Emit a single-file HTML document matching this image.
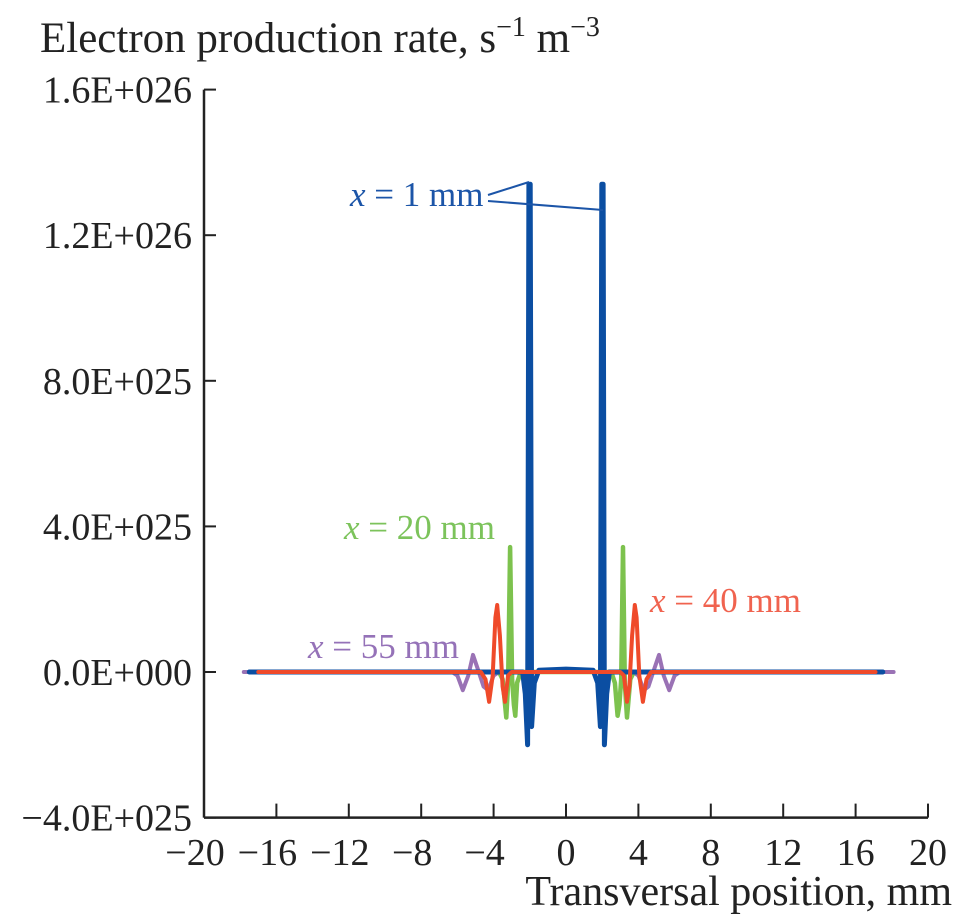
<!DOCTYPE html>
<html><head><meta charset="utf-8"><style>
body{margin:0;background:#fff}
svg{display:block;font-family:"Liberation Serif",serif}
</style></head><body>
<svg id="chart" width="958" height="920" viewBox="0 0 958 920">
<text x="40" y="52" font-size="43" fill="#222">Electron production rate, s<tspan dy="-16" font-size="28">−1</tspan><tspan dy="16"> m</tspan><tspan dy="-16" font-size="28">−3</tspan></text>
<text x="952" y="905" font-size="42" fill="#222" text-anchor="end">Transversal position, mm</text>
<g id="axes"></g>
<g id="series"></g>
<g id="labels">
<text x="350" y="206" font-size="35" fill="#1c55a8"><tspan font-style="italic">x</tspan> = 1 mm</text>
<line x1="488" y1="195" x2="529" y2="182" stroke="#1c55a8" stroke-width="2"/>
<line x1="488" y1="201" x2="603" y2="210" stroke="#1c55a8" stroke-width="2"/>
<text x="344" y="539" font-size="35" fill="#7cc35b"><tspan font-style="italic">x</tspan> = 20 mm</text>
<text x="650" y="612" font-size="35" fill="#f0634f"><tspan font-style="italic">x</tspan> = 40 mm</text>
<text x="308" y="658" font-size="35" fill="#9572b8"><tspan font-style="italic">x</tspan> = 55 mm</text>
</g>
</svg>
<script>
const xTicks=[-20,-16,-12,-8,-4,0,4,8,12,16,20];
const xTickLabels=["−20","−16","−12","−8","−4","0","4","8","12","16","20"];
const yTicks=[-4,0,4,8,12,16];
const yTickLabels=["−4.0E+025","0.0E+000","4.0E+025","8.0E+025","1.2E+026","1.6E+026"];
// values in units of 1E+25
const purpleX=[-17.8,-6.3,-6.0,-5.7,-5.4,-5.14,-4.85,-4.55,-4.3,-4.0,-3.7,3.7,4.0,4.3,4.55,4.85,5.14,5.4,5.7,6.0,6.3,18.1];
const purpleY=[0,0,-0.1,-0.5,-0.1,0.47,0.05,-0.4,-0.5,-0.1,0,0,-0.1,-0.5,-0.4,0.05,0.47,-0.1,-0.5,-0.1,0,0];
const greenX=[-17.5,-3.7,-3.5,-3.3,-3.2,-3.09,-2.98,-2.88,-2.8,-2.7,-2.5,2.5,2.7,2.85,2.95,3.05,3.15,3.25,3.37,3.55,3.75,17.5];
const greenY=[0,0,-0.2,-1.25,-0.3,3.43,-0.2,-0.9,-1.2,-0.3,0,0,-0.3,-1.2,-0.9,-0.2,3.43,-0.3,-1.25,-0.2,0,0];
const blueX=[-17.5,-2.4,-2.25,-2.12,-2.05,-1.98,-1.9,-1.75,-1.5,0,1.5,1.75,1.9,1.98,2.05,2.12,2.25,2.4,17.5];
const blueY=[0,0,-0.6,-2.0,13.4,13.4,-1.5,-0.3,0.05,0.08,0.05,-0.3,-1.5,13.4,13.4,-2.0,-0.6,0,0];
const redX=[-17.0,-4.7,-4.45,-4.25,-4.05,-3.9,-3.8,-3.65,-3.5,-3.37,-3.2,-3.0,3.0,3.2,3.37,3.5,3.65,3.8,3.9,4.05,4.25,4.45,4.7,17.1];
const redY=[0,0,-0.2,-0.82,-0.1,1.5,1.84,1.0,-0.4,-0.82,-0.1,0,0,-0.1,-0.82,-0.4,1.0,1.84,1.5,-0.1,-0.82,-0.2,0,0];

const NS="http://www.w3.org/2000/svg";
const X0=204,X1=928,Y0=672,YS=36.4;
function sx(v){return X0+(v+20)/40*(X1-X0);}
function sy(v){return Y0-v*YS;}
const axes=document.getElementById('axes');
function mk(tag,attrs,parent){const e=document.createElementNS(NS,tag);for(const k in attrs)e.setAttribute(k,attrs[k]);parent.appendChild(e);return e;}
const yl=mk('line',{x1:sx(-20),y1:sy(16),x2:sx(-20),y2:sy(-4),stroke:'#222','stroke-width':2.5},axes);


const xl=mk('line',{x1:sx(-20),y1:sy(-4),x2:sx(20),y2:sy(-4),stroke:'#222','stroke-width':2.5},axes);


yTicks.forEach((t,i)=>{
  const l=mk('line',{x1:sx(-20),y1:sy(t),x2:sx(-20)+12,y2:sy(t),stroke:'#222','stroke-width':2},axes);
  
  
  const tx=mk('text',{x:192,y:sy(t)+13,'font-size':38,fill:'#222','text-anchor':'end'},axes);
  tx.textContent=yTickLabels[i];
  
  
});
xTicks.forEach((t,i)=>{
  const l=mk('line',{x1:sx(t),y1:sy(-4),x2:sx(t),y2:sy(-4)-14,stroke:'#222','stroke-width':2},axes);
  
  
  const tx=mk('text',{x:sx(t)-(t<0?9:0),y:865,'font-size':38,fill:'#222','text-anchor':'middle'},axes);
  tx.textContent=xTickLabels[i];
  
  
});
const series=document.getElementById('series');
function draw(xs,ys,color,w,name){
  const d=xs.map((x,i)=>(i?'L':'M')+sx(x).toFixed(1)+','+sy(ys[i]).toFixed(1)).join(' ');
  const p=mk('path',{d:d,fill:'none',stroke:color,'stroke-width':w,'stroke-linejoin':'round','stroke-linecap':'round'},series);
  
  
}
draw(purpleX,purpleY,'#9a72b5',4,'series-x55');
draw(greenX,greenY,'#7dc24e',4.5,'series-x20');
draw(blueX,blueY,'#0b4ea2',5,'series-x1');
draw(redX,redY,'#ef4a2a',4,'series-x40');
</script>
</body></html>
